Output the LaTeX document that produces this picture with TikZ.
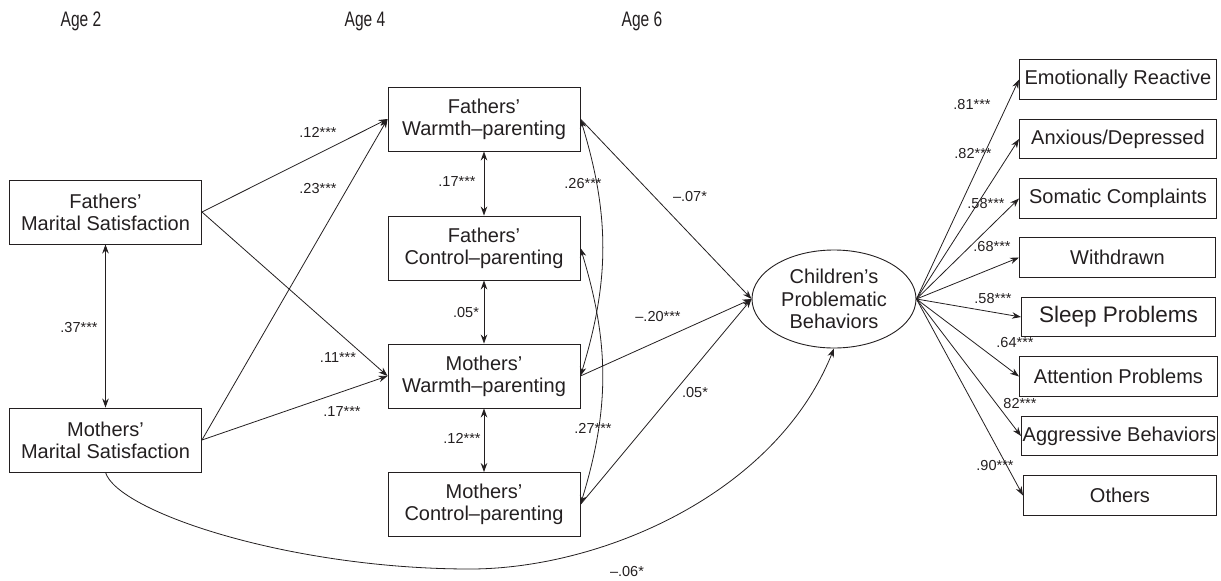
\documentclass[tikz,border=0pt]{standalone}
\usepackage{fontspec}
\setmainfont{Liberation Sans}
\newfontfamily\agefont[FakeStretch=0.74]{Liberation Sans}
\usetikzlibrary{arrows.meta,shapes.geometric}

\begin{document}
\begin{tikzpicture}[x=1pt,y=-1pt]

\definecolor{semink}{HTML}{231F20}

\tikzset{
  measure/.style={
    draw=semink, line width=0.9pt, minimum width=192pt, minimum height=64pt,
    inner sep=0pt, align=center, text=semink, font=\fontsize{20}{22}\selectfont
  },
  indicator/.style={
    draw=semink, line width=0.9pt, minimum height=39.5pt, inner sep=0pt,
    anchor=west, text=semink, font=\fontsize{20}{22}\selectfont
  },
  latent/.style={
    ellipse, draw=semink, line width=0.9pt, minimum width=164pt,
    minimum height=98pt, inner sep=0pt, align=center, text=semink,
    font=\fontsize{20}{22.5}\selectfont
  },
  pathedge/.style={draw=semink, line width=0.8pt, -{Stealth[length=9pt,width=6.5pt]}},
  covedge/.style={
    draw=semink, line width=0.8pt,
    {Stealth[length=9pt,width=6.5pt]}-{Stealth[length=9pt,width=6.5pt]}
  },
  coef/.style={inner sep=0pt, text=semink, font=\fontsize{14.5}{16}\selectfont},
  agelabel/.style={inner sep=0pt, text=semink, font=\agefont\fontsize{21}{23}\selectfont}
}

\useasboundingbox (0,0) rectangle (1221,581);

% Waves.
\node[agelabel] (age2) at (81,21)  {Age 2};
\node[agelabel] (age4) at (365,21) {Age 4};
\node[agelabel] (age6) at (642,21) {Age 6};

% Age 2: marital satisfaction.
\node[measure] (fms) at (105.5,212) {Fathers’\\Marital Satisfaction};
\node[measure] (mms) at (105.5,440) {Mothers’\\Marital Satisfaction};

% Age 4: parenting.
\node[measure] (fw) at (484,119)   {Fathers’\\Warmth–parenting};
\node[measure] (fc) at (484,248)   {Fathers’\\Control–parenting};
\node[measure] (mw) at (484,376)   {Mothers’\\Warmth–parenting};
\node[measure] (mc) at (484,504.5) {Mothers’\\Control–parenting};

% Age 6: latent outcome and its indicators.
\node[latent] (cpb) at (834,299) {Children’s\\Problematic\\Behaviors};

\node[indicator, minimum width=197pt] (emo) at (1019,79.5)  {Emotionally Reactive};
\node[indicator, minimum width=197pt] (anx) at (1019,139)   {Anxious/Depressed};
\node[indicator, minimum width=197pt] (som) at (1019,198.5) {Somatic Complaints};
\node[indicator, minimum width=196pt] (wit) at (1019,257.5) {Withdrawn};
\node[indicator, minimum width=194pt,
      font=\fontsize{22.5}{24}\selectfont] (slp) at (1021,317) {Sleep Problems};
\node[indicator, minimum width=198pt] (att) at (1019,376.5) {Attention Problems};
\node[indicator, minimum width=196pt] (agg) at (1021,436)   {Aggressive Behaviors};
\node[indicator, minimum width=193pt] (oth) at (1023,495.5) {Others};

% Paths from marital satisfaction to parenting.
\foreach \from/\to in {fms/fw,fms/mw,mms/fw,mms/mw}
  \draw[pathedge] (\from.east) -- (\to.west);

% Correlations between neighbouring measures.
\draw[covedge] (fms.south) -- (mms.north);
\foreach \from/\to in {fw/fc,fc/mw,mw/mc}
  \draw[covedge] (\from.south) -- (\to.north);
\draw[covedge] (fw.east) to[bend left=17] (mw.east);
\draw[covedge] (fc.east) to[bend left=17] (mc.east);

% Paths from parenting to the outcome.
\foreach \from in {fw,mw,mc}
  \draw[pathedge] (\from.east) -- (cpb.west);

% Direct path from mothers' marital satisfaction.
\coordinate (lowpt) at (470,569);
\draw[pathedge] (mms.south) .. controls (118,512) and (290,569) .. (lowpt)
  .. controls (600,569) and (775,495) .. (cpb.south);

% Factor loadings.
\foreach \item in {emo,anx,som,wit,slp,att,agg,oth}
  \draw[pathedge] (cpb.east) -- (\item.west);

% Coefficients.
\node[coef] (k12) at (318,132) {.12***};
\node[coef] (k23) at (318,189) {.23***};
\node[coef] (k37) at (79,328)  {.37***};
\node[coef] (k11) at (338,358) {.11***};
\node[coef] (k17) at (342,412) {.17***};
\node[coef] (kfwfc) at (457,182) {.17***};
\node[coef] (kfcmw) at (466,313) {.05*};
\node[coef] (kmwmc) at (462,438) {.12***};
\node[coef] (k26) at (583,184) {.26***};
\node[coef] (k27) at (593,428) {.27***};
\node[coef] (kfw) at (690,197) {–.07*};
\node[coef] (kmw) at (658,317) {–.20***};
\node[coef] (kmc) at (695,393) {.05*};
\node[coef] (kmms) at (627,572) {–.06*};

\foreach \name/\x/\y/\val in {
  lemo/972/105/.81***, lanx/973/154/.82***, lsom/986/204/.58***,
  lwit/992/247/.68***, lslp/993/299/.58***, latt/1015/343/.64***,
  lagg/1020/404/82***, loth/995/466/.90***}
  \node[coef] (\name) at (\x,\y) {\val};

\end{tikzpicture}
\end{document}
